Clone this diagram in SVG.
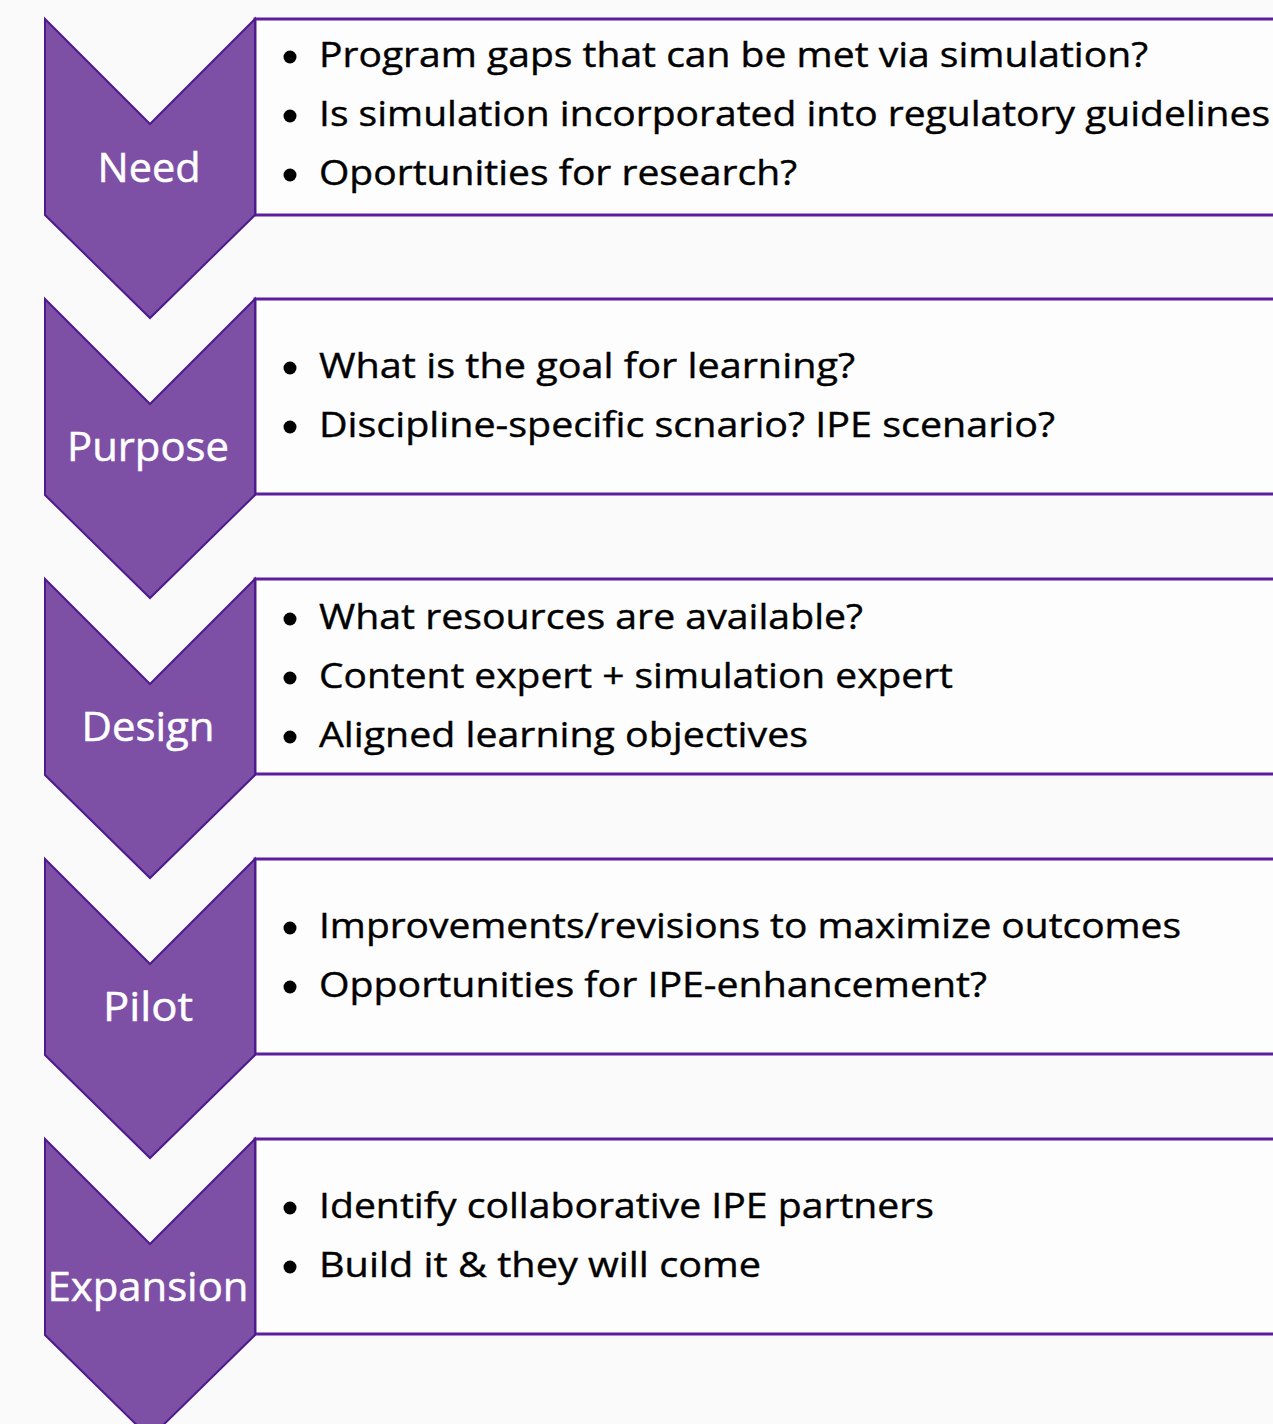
<svg xmlns="http://www.w3.org/2000/svg" width="1273" height="1424" viewBox="0 0 1273 1424">
  <style>
    .box { fill: #fdfdfd; stroke: #5a1e9e; stroke-width: 3; }
    .chev { fill: #7d4fa5; stroke: #4e1a8e; stroke-width: 2; stroke-linejoin: miter; }
    .lbl { font-family: "Open Sans", "Noto Sans", sans-serif; font-size: 41px; fill: #ffffff; stroke: #ffffff; stroke-width: 0.5; text-anchor: middle; }
    .item { font-family: "Open Sans", "Noto Sans", sans-serif; font-size: 35px; fill: #000000; stroke: #000000; stroke-width: 0.4; }
    .dot { fill: #000000; }
  </style>
  <defs>
    <!-- chevron pointing down, top-left corner at origin -->
    <polygon id="chevron" class="chev" points="0,0 105,105 210,0 210,196 105,299 0,196"/>
    <circle id="bullet" class="dot" r="6.5"/>
  </defs>
  <rect width="1273" height="1424" fill="#fafafa"/>

  <g id="connectors"></g>

  <!-- Need -->
  <g id="step-need">
    <rect class="box" x="255" y="19" width="1040" height="196"/>
    <use href="#chevron" x="45" y="19"/>
    <text class="lbl" x="149" y="182" textLength="103" lengthAdjust="spacingAndGlyphs">Need</text>
    <use href="#bullet" x="290" y="57"/>
    <text class="item" x="319" y="67" textLength="829" lengthAdjust="spacingAndGlyphs">Program gaps that can be met via simulation?</text>
    <use href="#bullet" x="290" y="116"/>
    <text class="item" x="319" y="126" textLength="951" lengthAdjust="spacingAndGlyphs">Is simulation incorporated into regulatory guidelines</text>
    <use href="#bullet" x="290" y="175"/>
    <text class="item" x="319" y="185" textLength="478" lengthAdjust="spacingAndGlyphs">Oportunities for research?</text>
  </g>

  <!-- Purpose -->
  <g id="step-purpose">
    <rect class="box" x="255" y="299" width="1040" height="195"/>
    <use href="#chevron" x="45" y="299"/>
    <text class="lbl" x="148" y="461" textLength="162" lengthAdjust="spacingAndGlyphs">Purpose</text>
    <use href="#bullet" x="290" y="368"/>
    <text class="item" x="319" y="378" textLength="536" lengthAdjust="spacingAndGlyphs">What is the goal for learning?</text>
    <use href="#bullet" x="290" y="427"/>
    <text class="item" x="319" y="437" textLength="736" lengthAdjust="spacingAndGlyphs">Discipline-specific scnario? IPE scenario?</text>
  </g>

  <!-- Design -->
  <g id="step-design">
    <rect class="box" x="255" y="579" width="1040" height="195"/>
    <use href="#chevron" x="45" y="579"/>
    <text class="lbl" x="148" y="741" textLength="133" lengthAdjust="spacingAndGlyphs">Design</text>
    <use href="#bullet" x="290" y="619"/>
    <text class="item" x="319" y="629" textLength="544" lengthAdjust="spacingAndGlyphs">What resources are available?</text>
    <use href="#bullet" x="290" y="678"/>
    <text class="item" x="319" y="688" textLength="634" lengthAdjust="spacingAndGlyphs">Content expert + simulation expert</text>
    <use href="#bullet" x="290" y="737"/>
    <text class="item" x="319" y="747" textLength="489" lengthAdjust="spacingAndGlyphs">Aligned learning objectives</text>
  </g>

  <!-- Pilot -->
  <g id="step-pilot">
    <rect class="box" x="255" y="859" width="1040" height="195"/>
    <use href="#chevron" x="45" y="859"/>
    <text class="lbl" x="148" y="1021" textLength="90" lengthAdjust="spacingAndGlyphs">Pilot</text>
    <use href="#bullet" x="290" y="928"/>
    <text class="item" x="319" y="938" textLength="862" lengthAdjust="spacingAndGlyphs">Improvements/revisions to maximize outcomes</text>
    <use href="#bullet" x="290" y="987"/>
    <text class="item" x="319" y="997" textLength="668" lengthAdjust="spacingAndGlyphs">Opportunities for IPE-enhancement?</text>
  </g>

  <!-- Expansion -->
  <g id="step-expansion">
    <rect class="box" x="255" y="1139" width="1040" height="195"/>
    <use href="#chevron" x="45" y="1139"/>
    <text class="lbl" x="148" y="1301" textLength="201" lengthAdjust="spacingAndGlyphs">Expansion</text>
    <use href="#bullet" x="290" y="1208"/>
    <text class="item" x="319" y="1218" textLength="615" lengthAdjust="spacingAndGlyphs">Identify collaborative IPE partners</text>
    <use href="#bullet" x="290" y="1267"/>
    <text class="item" x="319" y="1277" textLength="442" lengthAdjust="spacingAndGlyphs">Build it &amp; they will come</text>
  </g>
</svg>
